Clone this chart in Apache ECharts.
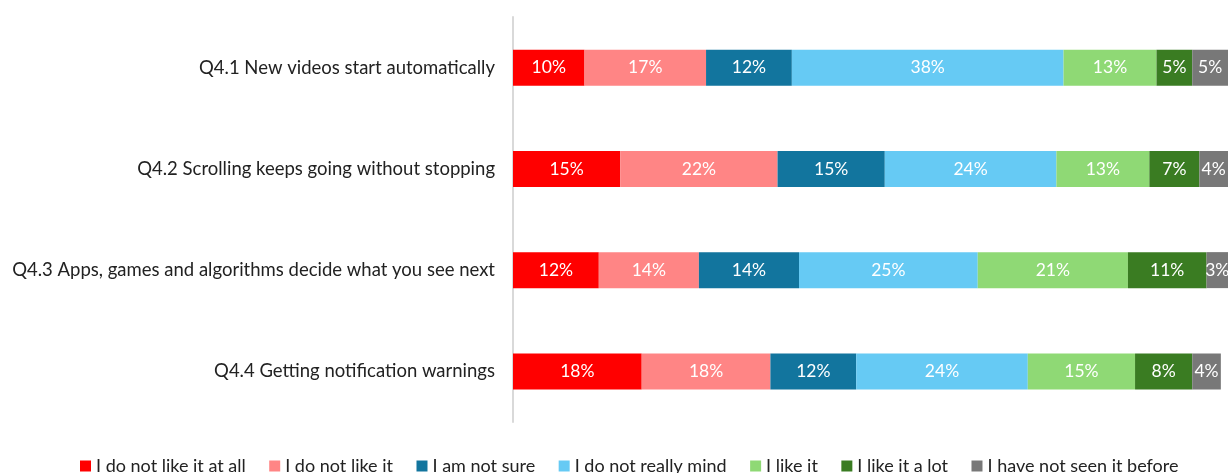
<!DOCTYPE html>
<html>
<head>
<meta charset="utf-8">
<script src="https://cdn.jsdelivr.net/npm/echarts@6/dist/echarts.min.js"></script>
<style>
  html, body { margin: 0; padding: 0; background: #fff; }
  #chart { width: 1228px; height: 473px; }
</style>
</head>
<body>
<div id="chart"></div>
<script>
// Survey questions (top to bottom)
const questions = [
  'Q4.1 New videos start automatically',
  'Q4.2 Scrolling keeps going without stopping',
  'Q4.3 Apps, games and algorithms decide what you see next',
  'Q4.4 Getting notification warnings'
];

// Answer options, in stacking order
const answers = [
  'I do not like it at all',
  'I do not like it',
  'I am not sure',
  'I do not really mind',
  'I like it',
  'I like it a lot',
  'I have not seen it before'
];

// Percentages per answer, one value per question (Q4.1..Q4.4)
const notLikeAtAll = [10, 15, 12, 18];
const notLike      = [17, 22, 14, 18];
const notSure      = [12, 15, 14, 12];
const notMind      = [38, 24, 25, 24];
const likeIt       = [13, 13, 21, 15];
const likeALot     = [5, 7, 11, 8];
const notSeen      = [5, 4, 3, 4];

const seriesValues = [notLikeAtAll, notLike, notSure, notMind, likeIt, likeALot, notSeen];
const colors = ['#FF0000', '#FF8585', '#12759E', '#66CAF4', '#8FD975', '#3A7C22', '#787878'];

const font = 'Lato, "Open Sans", "Liberation Sans", sans-serif';

const chart = echarts.init(document.getElementById('chart'));
chart.setOption({
  animation: false,
  color: colors,
  grid: { left: 513, right: 0, top: 17, bottom: 51, containLabel: false },
  xAxis: {
    type: 'value', min: 0, max: 100,
    show: false
  },
  yAxis: {
    type: 'category',
    data: questions,
    inverse: true,
    axisLine: { show: true, lineStyle: { color: '#D9D9D9', width: 2 } },
    axisTick: { show: false },
    axisLabel: { color: '#222', fontSize: 18.5, fontFamily: font, margin: 18 }
  },
  legend: {
    top: 452,
    left: 75,
    itemWidth: 11, itemHeight: 11,
    itemGap: 23.5,
    icon: 'rect',
    textStyle: { color: '#222', fontSize: 18, fontFamily: font },
    data: answers
  },
  series: answers.map((name, i) => ({
    name,
    type: 'bar',
    stack: 'total',
    barWidth: 36,
    data: seriesValues[i],
    itemStyle: { color: colors[i] },
    label: {
      show: true,
      position: 'inside',
      color: '#fff',
      fontSize: 17.5,
      fontFamily: font,
      formatter: p => p.value + '%'
    }
  }))
});
</script>
</body>
</html>
